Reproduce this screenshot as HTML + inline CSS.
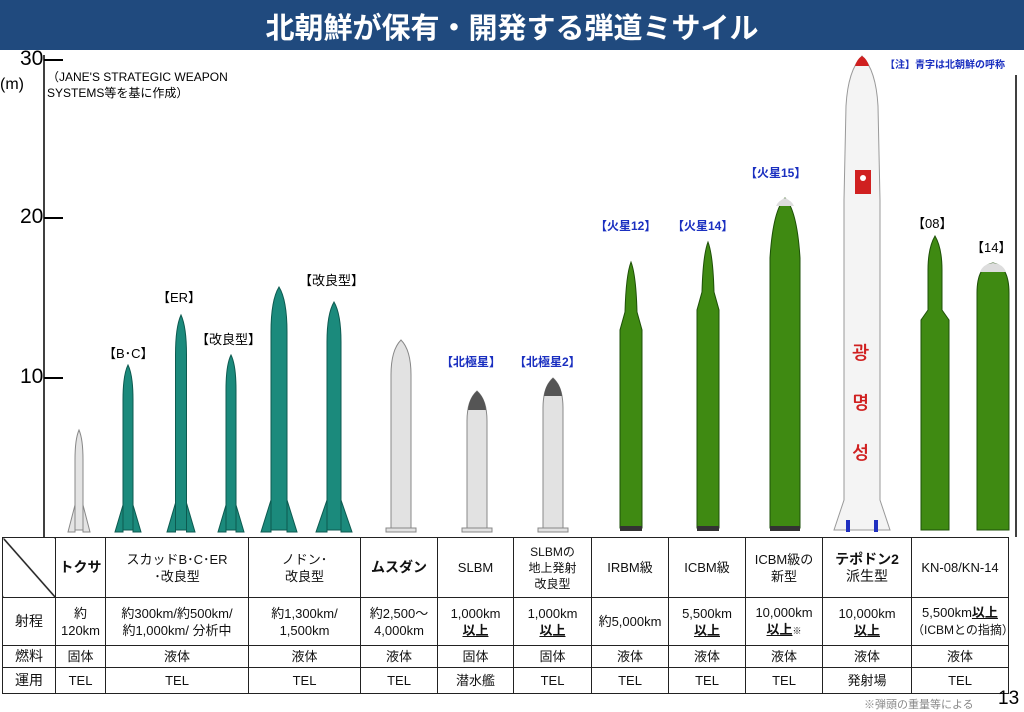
<!DOCTYPE html>
<html><head><meta charset="utf-8">
<style>
body{margin:0;width:1024px;height:709px;background:#fff;position:relative;overflow:hidden;font-family:"Liberation Sans","Noto Sans CJK JP",sans-serif;}
.t{position:absolute;white-space:nowrap}
table{position:absolute;left:2px;top:537px;border-collapse:collapse;table-layout:fixed;}
td{border:1.5px solid #222;text-align:center;font-size:13px;line-height:17px;padding:0;color:#111;}
.b{font-weight:bold;font-size:14px}
u{text-decoration:underline;font-weight:bold}
</style></head><body>
<div style="position:absolute;left:0;top:0;width:1024px;height:50px;background:#204a7e"></div>
<div class="t" style="left:0;width:1024px;top:5px;text-align:center;color:#fff;font-size:29px;font-weight:bold;">北朝鮮が保有・開発する弾道ミサイル</div>
<div class="t" style="left:20px;top:47px;font-size:21px">30</div>
<div class="t" style="left:20px;top:205px;font-size:21px">20</div>
<div class="t" style="left:20px;top:365px;font-size:21px">10</div>
<div class="t" style="left:0;top:76px;font-size:16px">(m)</div>
<div class="t" style="left:47px;top:69px;font-size:12px;line-height:16px">（JANE'S STRATEGIC WEAPON<br>SYSTEMS等を基に作成）</div>
<div class="t" style="left:885px;top:56px;font-size:10px;color:#1a2fc0;font-weight:bold">【注】青字は北朝鮮の呼称</div>
<svg width="1024" height="709" style="position:absolute;left:0;top:0">
<line x1="44" y1="55" x2="44" y2="537" stroke="#000" stroke-width="1.5"/>
<line x1="44" y1="60" x2="63" y2="60" stroke="#000" stroke-width="2"/>
<line x1="44" y1="218" x2="63" y2="218" stroke="#000" stroke-width="2"/>
<line x1="44" y1="378" x2="63" y2="378" stroke="#000" stroke-width="2"/>
<line x1="1016" y1="75" x2="1016" y2="537" stroke="#000" stroke-width="1.5"/>
<g stroke-width="1">
<!-- Toksa -->
<g fill="#e4e4e4" stroke="#888"><path d="M79,430Q83,439 83,460L83,530L75,530L75,460Q75,439 79,430Z"/><polygon points="68,532 75,505 75,532"/><polygon points="90,532 83,505 83,532"/></g>
<g fill="#1b8a7c" stroke="#0d5a50">
<path d="M128,365Q133,375 133,400L133,530L123,530L123,400Q123,375 128,365Z"/><polygon points="115,532 123,505 123,532"/><polygon points="141,532 133,505 133,532"/>
<path d="M181,315Q186.5,327 186.5,355L186.5,530L175.5,530L175.5,355Q175.5,327 181,315Z"/><polygon points="167,532 175.5,503 175.5,532"/><polygon points="195,532 186.5,503 186.5,532"/>
<path d="M231,355Q236,365 236,390L236,530L226,530L226,390Q226,365 231,355Z"/><polygon points="218,532 226,505 226,532"/><polygon points="244,532 236,505 236,532"/>
<path d="M279,287Q287,300 287,332L287,530L271,530L271,332Q271,300 279,287Z"/><polygon points="261,532 271,500 271,532"/><polygon points="297,532 287,500 287,532"/>
<path d="M334,302Q341,314 341,342L341,530L327,530L327,342Q327,314 334,302Z"/><polygon points="316,532 327,500 327,532"/><polygon points="352,532 341,500 341,532"/>
</g>
<g fill="#e2e2e2" stroke="#888">
<path d="M401,340Q411,350 411,375L411,528L391,528L391,375Q391,350 401,340Z"/><rect x="386" y="528" width="30" height="4"/>
<path d="M477,391Q487,400 487,421L487,528L467,528L467,421Q467,400 477,391Z"/><rect x="462" y="528" width="30" height="4"/>
<path d="M553,378Q563,387 563,408L563,528L543,528L543,408Q543,387 553,378Z"/><rect x="538" y="528" width="30" height="4"/>
</g>
<path d="M477,391Q485,398 486,410L468,410Q469,398 477,391Z" fill="#555"/>
<path d="M553,378Q561,385 562,396L544,396Q545,385 553,378Z" fill="#555"/>
<g fill="#3f8a12" stroke="#1e5008">
<path d="M631,262Q636,275 637,312L642,330L642,528L620,528L620,330L625,312Q626,275 631,262Z"/>
<path d="M708,242Q713,255 714,292L719,310L719,528L697,528L697,310L702,292Q703,255 708,242Z"/>
<path d="M785,198Q797,210 800,258L800,528L770,528L770,258Q773,210 785,198Z"/>
<path d="M935,236Q942,248 942,270L942,310L949,320L949,530L921,530L921,320L928,310L928,270Q928,248 935,236Z"/>
<path d="M993,263Q1009,266 1009,293L1009,530L977,530L977,293Q977,266 993,263Z"/>
</g>
<g fill="#333"><rect x="620" y="526" width="22" height="5"/><rect x="697" y="526" width="22" height="5"/><rect x="770" y="526" width="30" height="5"/></g>
<path d="M785,198Q792,201 794,206L776,206Q778,201 785,198Z" fill="#ddd"/>
<path d="M993,263Q1003,264 1006,272L980,272Q983,264 993,263Z" fill="#ddd"/>
<g fill="#f4f4f4" stroke="#999">
<path d="M862,56Q876,70 878,106L880,200L880,500L890,530L834,530L844,500L844,200L846,106Q848,70 862,56Z"/>
</g>
<path d="M862,56Q867,59 869,66L855,66Q857,59 862,56Z" fill="#d02020"/>
<rect x="855" y="170" width="16" height="24" fill="#d02020"/><circle cx="863" cy="178" r="3" fill="#fff"/>
<rect x="846" y="520" width="4" height="12" fill="#2030c0"/><rect x="874" y="520" width="4" height="12" fill="#2030c0"/>
</g>
</svg>
<div class="t" style="left:852px;top:328px;color:#d02020;font-size:18px;font-weight:bold;line-height:50px;font-family:'NanumGothic',sans-serif">광<br>명<br>성</div>
<div class="t" style="left:103px;top:343px;font-size:13px">【B･C】</div>
<div class="t" style="left:157px;top:287px;font-size:13px">【ER】</div>
<div class="t" style="left:196px;top:329px;font-size:13px">【改良型】</div>
<div class="t" style="left:299px;top:270px;font-size:13px">【改良型】</div>
<div class="t" style="left:441px;top:353px;font-size:12px;color:#1a2fc0;font-weight:bold">【北極星】</div>
<div class="t" style="left:514px;top:353px;font-size:12px;color:#1a2fc0;font-weight:bold">【北極星2】</div>
<div class="t" style="left:595px;top:217px;font-size:12px;color:#1a2fc0;font-weight:bold">【火星12】</div>
<div class="t" style="left:672px;top:217px;font-size:12px;color:#1a2fc0;font-weight:bold">【火星14】</div>
<div class="t" style="left:745px;top:164px;font-size:12px;color:#1a2fc0;font-weight:bold">【火星15】</div>
<div class="t" style="left:912px;top:213px;font-size:13px">【08】</div>
<div class="t" style="left:971px;top:237px;font-size:13px">【14】</div>
<table>
<colgroup><col style="width:53px"><col style="width:50px"><col style="width:143px"><col style="width:112px"><col style="width:77px"><col style="width:76px"><col style="width:78px"><col style="width:77px"><col style="width:77px"><col style="width:77px"><col style="width:89px"><col style="width:97px"></colgroup>
<tr style="height:60px"><td style="background:linear-gradient(to top right,transparent 49%,#222 50%,transparent 52%) , linear-gradient(to bottom left,transparent 0,transparent 0);background:linear-gradient(to bottom left,transparent 48.5%,#222 49.5%,#222 50.5%,transparent 51.5%)"></td><td class="b">トクサ</td><td>スカッドB･C･ER<br>･改良型</td><td>ノドン･<br>改良型</td><td class="b">ムスダン</td><td>SLBM</td><td style="font-size:12px;line-height:16px">SLBMの<br>地上発射<br>改良型</td><td>IRBM級</td><td>ICBM級</td><td>ICBM級の<br>新型</td><td class="b">テポドン2<br><span style="font-weight:normal">派生型</span></td><td>KN-08/KN-14</td></tr>
<tr style="height:48px"><td style="font-size:14px">射程</td><td>約<br>120km</td><td>約300km/約500km/<br>約1,000km/ 分析中</td><td>約1,300km/<br>1,500km</td><td>約2,500～<br>4,000km</td><td>1,000km<br><u>以上</u></td><td>1,000km<br><u>以上</u></td><td>約5,000km</td><td>5,500km<br><u>以上</u></td><td>10,000km<br><u>以上</u><span style="font-size:9px">※</span></td><td>10,000km<br><u>以上</u></td><td>5,500km<u>以上</u><br><span style="font-size:12px">（ICBMとの指摘）</span></td></tr>
<tr style="height:22px"><td style="font-size:14px">燃料</td><td>固体</td><td>液体</td><td>液体</td><td>液体</td><td>固体</td><td>固体</td><td>液体</td><td>液体</td><td>液体</td><td>液体</td><td>液体</td></tr>
<tr style="height:26px"><td style="font-size:14px">運用</td><td>TEL</td><td>TEL</td><td>TEL</td><td>TEL</td><td>潜水艦</td><td>TEL</td><td>TEL</td><td>TEL</td><td>TEL</td><td>発射場</td><td>TEL</td></tr>
</table>
<div class="t" style="left:864px;top:696px;font-size:11px;color:#888">※弾頭の重量等による</div>
<div class="t" style="left:998px;top:688px;font-size:19px">13</div>
</body></html>
